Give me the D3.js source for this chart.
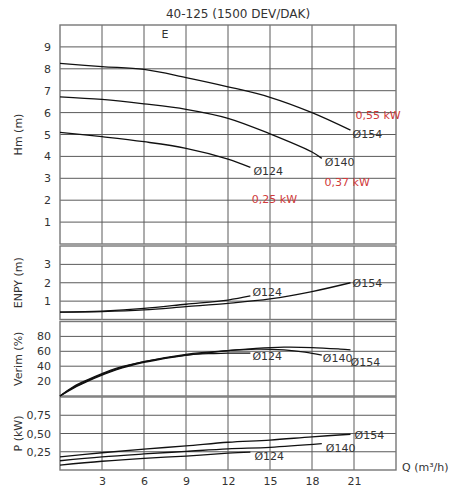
<!DOCTYPE html>
<html>
<head>
<meta charset="utf-8">
<script src="https://cdn.jsdelivr.net/npm/d3@7"></script>
<style>
  body { margin: 0; background: #fff; }
  text { font-family: "DejaVu Sans", sans-serif; fill: #333; }
</style>
</head>
<body>
<div id="chart"></div>
<script>
// chart values
var qTicks = [3, 6, 9, 12, 15, 18, 21];
var diameters = ["Ø154", "Ø140", "Ø124"];

// Hm (m) by Q (m3/h)
var head154 = [[0, 8.25], [3, 8.1], [6, 7.97], [9, 7.6], [12, 7.18], [15, 6.7], [18, 6.0], [20.75, 5.2]];
var head140 = [[0, 6.72], [3, 6.6], [6, 6.4], [9, 6.15], [12, 5.74], [15, 5.03], [18, 4.2], [18.7, 3.91]];
var head124 = [[0, 5.1], [3, 4.9], [6, 4.67], [9, 4.37], [12, 3.88], [13.6, 3.5]];

// ENPY (m)
var npsh154 = [[0, 0.4], [3, 0.43], [6, 0.52], [9, 0.7], [12, 0.88], [15, 1.12], [18, 1.52], [20.75, 2.0]];
var npsh124 = [[0, 0.4], [3, 0.46], [6, 0.6], [9, 0.83], [12, 1.06], [13.6, 1.28]];

// Verim (%)
var eff154 = [[0, 0], [1, 11], [2, 20], [3, 28], [4, 35], [6, 45], [8, 52], [10, 57], [12, 61], [14, 64], [16, 65.5], [18, 65], [20, 63], [20.75, 62]];
var eff140 = [[0, 0], [1, 12], [2, 21], [3, 29], [4, 36], [6, 46], [9, 56], [12, 61], [14, 63], [16, 62], [17.5, 59], [18.7, 55]];
var eff124 = [[0, 0], [1, 13], [2, 22], [3, 30], [4, 37], [6, 46], [9, 55], [11, 57], [12, 57.5], [13.6, 57.5]];

// P (kW)
var pow154 = [[0, 0.18], [3, 0.236], [6, 0.286], [9, 0.33], [12, 0.38], [15, 0.41], [18, 0.455], [20.75, 0.49]];
var pow140 = [[0, 0.127], [3, 0.18], [6, 0.22], [9, 0.255], [12, 0.29], [15, 0.31], [18.7, 0.36]];
var pow124 = [[0, 0.068], [3, 0.12], [6, 0.16], [9, 0.19], [12, 0.23], [13.6, 0.245]];

var motorLabels = ["0,55 kW", "0,37 kW", "0,25 kW"];

var width = 458, height = 500;
var left = 60, right = 396;

var svg = d3.select("#chart").append("svg")
  .attr("width", width)
  .attr("height", height);

var x = d3.scaleLinear().domain([0, 24]).range([left, right]);

// panels: y range in pixels, domain, ticks
var panels = [
  { title: "Hm (m)", top: 25, bottom: 244, domain: [0, 10], ticks: [1, 2, 3, 4, 5, 6, 7, 8, 9], fmt: d3.format("d") },
  { title: "ENPY (m)", top: 246, bottom: 319.5, domain: [0, 4], ticks: [1, 2, 3], fmt: d3.format("d") },
  { title: "Verim (%)", top: 321.5, bottom: 396, domain: [0, 100], ticks: [20, 40, 60, 80], fmt: d3.format("d") },
  { title: "P (kW)", top: 397, bottom: 470, domain: [0, 1], ticks: [0.25, 0.5, 0.75], fmt: function(d) { return d3.format(".2f")(d).replace(".", ","); } }
];

var line = function(yScale) {
  return d3.line()
    .x(d => x(d[0]))
    .y(d => yScale(d[1]))
    .curve(d3.curveCatmullRom.alpha(0.5));
};

panels.forEach(function(p) {
  p.y = d3.scaleLinear().domain(p.domain).range([p.bottom, p.top]);
  var g = svg.append("g");

  // vertical grid
  g.selectAll(".vg").data(qTicks).enter().append("line")
    .attr("x1", d => x(d)).attr("x2", d => x(d))
    .attr("y1", p.top).attr("y2", p.bottom)
    .attr("stroke", "#5a5a5a").attr("stroke-width", 1);

  // horizontal grid
  g.selectAll(".hg").data(p.ticks).enter().append("line")
    .attr("x1", left).attr("x2", right)
    .attr("y1", d => p.y(d)).attr("y2", d => p.y(d))
    .attr("stroke", "#5a5a5a").attr("stroke-width", 1);

  // frame
  g.append("rect")
    .attr("x", left).attr("y", p.top)
    .attr("width", right - left).attr("height", p.bottom - p.top)
    .attr("fill", "none").attr("stroke", "#777").attr("stroke-width", 1.4);

  // y axis labels
  var yAxis = d3.axisLeft(p.y).tickValues(p.ticks).tickFormat(p.fmt).tickSize(0).tickPadding(9);
  var ax = svg.append("g").attr("transform", `translate(${left},0)`).call(yAxis);
  ax.select(".domain").remove();
  ax.selectAll("text").attr("font-size", 11).attr("fill", "#444")
    .style("font-family", "DejaVu Sans, sans-serif");

  svg.append("text")
    .attr("transform", `translate(22,${(p.top + p.bottom) / 2}) rotate(-90)`)
    .attr("text-anchor", "middle")
    .attr("font-size", 11)
    .attr("fill", "#444")
    .text(p.title);
});

// x axis
var xAxis = d3.axisBottom(x).tickValues(qTicks).tickSize(0).tickPadding(7);
var xg = svg.append("g").attr("transform", `translate(0,${panels[3].bottom})`).call(xAxis);
xg.select(".domain").remove();
xg.selectAll("text").attr("font-size", 11).attr("fill", "#444")
  .style("font-family", "DejaVu Sans, sans-serif");

svg.append("text")
  .attr("x", 402).attr("y", 471)
  .attr("font-size", 11).attr("fill", "#444")
  .text("Q (m³/h)");

// title
svg.append("text")
  .attr("x", 238).attr("y", 18)
  .attr("text-anchor", "middle")
  .attr("font-size", 12).attr("fill", "#333")
  .text("40-125 (1500 DEV/DAK)");

svg.append("text")
  .attr("x", 165).attr("y", 38)
  .attr("text-anchor", "middle")
  .attr("font-size", 11).attr("fill", "#333")
  .text("E");

// curves
var curveSets = [
  { panel: 0, series: [head154, head140, head124] },
  { panel: 1, series: [npsh154, npsh124] },
  { panel: 2, series: [eff154, eff140, eff124] },
  { panel: 3, series: [pow154, pow140, pow124] }
];

curveSets.forEach(function(c) {
  var ys = panels[c.panel].y;
  svg.append("g").selectAll("path").data(c.series).enter().append("path")
    .attr("d", line(ys))
    .attr("fill", "none")
    .attr("stroke", "#111")
    .attr("stroke-width", 1.3);
});

// diameter labels at curve ends
function endLabel(panel, series, name, dx, dy) {
  var last = series[series.length - 1];
  svg.append("text")
    .attr("x", x(last[0]) + dx)
    .attr("y", panels[panel].y(last[1]) + dy)
    .attr("font-size", 11)
    .attr("fill", "#444")
    .text(name);
}

endLabel(0, head154, diameters[0], 2, 8);
endLabel(0, head140, diameters[1], 3, 8);
endLabel(0, head124, diameters[2], 3, 8);

endLabel(1, npsh154, diameters[0], 2, 4);
endLabel(1, npsh124, diameters[2], 2, 0);

endLabel(2, eff154, diameters[0], 0, 16);
endLabel(2, eff140, diameters[1], 1, 7);
endLabel(2, eff124, diameters[2], 2, 7);

endLabel(3, pow154, diameters[0], 4, 5);
endLabel(3, pow140, diameters[1], 4, 8);
endLabel(3, pow124, diameters[2], 4, 8);

// motor power labels
var motorPos = [[21.1, 5.7], [18.9, 2.65], [13.7, 1.85]];
svg.append("g").selectAll("text").data(motorLabels).enter().append("text")
  .attr("x", (d, i) => x(motorPos[i][0]))
  .attr("y", (d, i) => panels[0].y(motorPos[i][1]))
  .attr("font-size", 11)
  .style("fill", "#d03a3a")
  .text(d => d);
</script>
</body>
</html>
